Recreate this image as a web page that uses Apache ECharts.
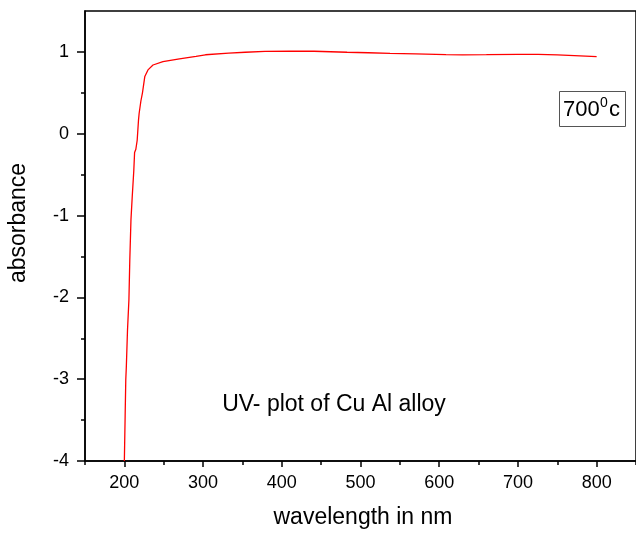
<!DOCTYPE html>
<html>
<head>
<meta charset="utf-8">
<script src="https://cdn.jsdelivr.net/npm/echarts@6/dist/echarts.min.js"></script>
<style>
  html, body { margin: 0; padding: 0; background: #fff; }
  #chart { width: 636px; height: 533px; }
</style>
</head>
<body>
<div id="chart"></div>
<script>
// Data
const wavelength = [200, 201.0, 201.8, 202.5, 204.0, 205.8, 206.9, 208.4, 210.0, 212.0, 213.0, 214.6, 216.3, 218.0, 218.8, 221.0, 223.0, 226.0, 230.0, 236.4, 249.0, 270.0, 291.0, 303.0, 332.6, 353.6, 378.7, 410, 441, 483, 510, 537.6, 570, 608.6, 629.6, 660, 700, 725.7, 750, 771.8, 800];
const absorbance = [-4.0, -3.45, -3.01, -2.85, -2.40, -2.03, -1.55, -1.05, -0.77, -0.45, -0.23, -0.19, -0.08, 0.17, 0.25, 0.40, 0.50, 0.70, 0.78, 0.84, 0.88, 0.915, 0.945, 0.965, 0.984, 0.996, 1.006, 1.009, 1.008, 0.996, 0.99, 0.982, 0.975, 0.967, 0.964, 0.966, 0.97, 0.97, 0.963, 0.955, 0.943];
const xMajorTicks = [200, 300, 400, 500, 600, 700, 800];
const xMinorTicks = [150, 250, 350, 450, 550, 650, 750, 850];
const yMajorTicks = [-4, -3, -2, -1, 0, 1];
const yMinorTicks = [-3.5, -2.5, -1.5, -0.5, 0.5];
const xTitle = 'wavelength in nm';
const yTitle = 'absorbance';
const plotNote = 'UV- plot of Cu Al alloy';

const FONT = "'Liberation Sans', Arial, sans-serif";
const chart = echarts.init(document.getElementById('chart'), null, { renderer: 'canvas' });

const seriesData = wavelength.map((w, i) => [w, absorbance[i]]);

const option = {
  animation: false,
  backgroundColor: '#fff',
  grid: {
    left: 85, right: -6, top: 11, bottom: 72,
    show: true, borderColor: '#000', borderWidth: 1.5, backgroundColor: 'transparent'
  },
  xAxis: [
    {
      type: 'value', min: 150, max: 850, position: 'bottom',
      axisLine: { show: true, onZero: false, lineStyle: { color: '#000', width: 1.5 } },
      axisTick: { show: true, inside: false, length: 6, customValues: xMajorTicks, lineStyle: { color: '#000', width: 1.5 } },
      axisLabel: { show: true, customValues: xMajorTicks, margin: 13, fontSize: 18, fontFamily: FONT, color: '#000' },
      splitLine: { show: false }
    },
    {
      type: 'value', min: 150, max: 850, position: 'bottom',
      axisLine: { show: false, onZero: false },
      axisTick: { show: true, inside: false, length: 4, customValues: xMinorTicks, lineStyle: { color: '#000', width: 1.5 } },
      axisLabel: { show: false },
      splitLine: { show: false }
    }
  ],
  yAxis: [
    {
      type: 'value', min: -4, max: 1.5, position: 'left',
      axisLine: { show: true, onZero: false, lineStyle: { color: '#000', width: 1.5 } },
      axisTick: { show: true, inside: false, length: 8, customValues: yMajorTicks, lineStyle: { color: '#000', width: 1.5 } },
      axisLabel: { show: true, customValues: yMajorTicks, margin: 16, fontSize: 18, fontFamily: FONT, color: '#000' },
      splitLine: { show: false }
    },
    {
      type: 'value', min: -4, max: 1.5, position: 'left',
      axisLine: { show: false, onZero: false },
      axisTick: { show: true, inside: false, length: 4, customValues: yMinorTicks, lineStyle: { color: '#000', width: 1.5 } },
      axisLabel: { show: false },
      splitLine: { show: false }
    }
  ],
  series: [
    {
      type: 'line',
      xAxisIndex: 0, yAxisIndex: 0,
      data: seriesData,
      showSymbol: false,
      smooth: false,
      lineStyle: { color: '#ff0000', width: 1.3 },
      z: 3
    }
  ],
  graphic: [
    { type: 'text', x: 363, y: 518, style: { text: xTitle, font: '23px ' + FONT, fill: '#000', align: 'center', verticalAlign: 'middle' } },
    { type: 'text', x: 19, y: 223, rotation: Math.PI / 2, style: { text: yTitle, font: '23px ' + FONT, fill: '#000', align: 'center', verticalAlign: 'middle' } },
    { type: 'text', x: 334, y: 405, style: { text: plotNote, font: '23px ' + FONT, fill: '#000', align: 'center', verticalAlign: 'middle' } },
    { type: 'rect', shape: { x: 559.5, y: 91.5, width: 66, height: 35 }, style: { fill: '#fff', stroke: '#555', lineWidth: 1 }, z: 10 },
    { type: 'text', x: 563, y: 110, style: { text: '700', font: '22px ' + FONT, fill: '#000', align: 'left', verticalAlign: 'middle' }, z: 11 },
    { type: 'text', x: 600, y: 103, style: { text: '0', font: '14px ' + FONT, fill: '#000', align: 'left', verticalAlign: 'middle' }, z: 11 },
    { type: 'text', x: 609, y: 110, style: { text: 'c', font: '22px ' + FONT, fill: '#000', align: 'left', verticalAlign: 'middle' }, z: 11 }
  ]
};

chart.setOption(option);
</script>
</body>
</html>
